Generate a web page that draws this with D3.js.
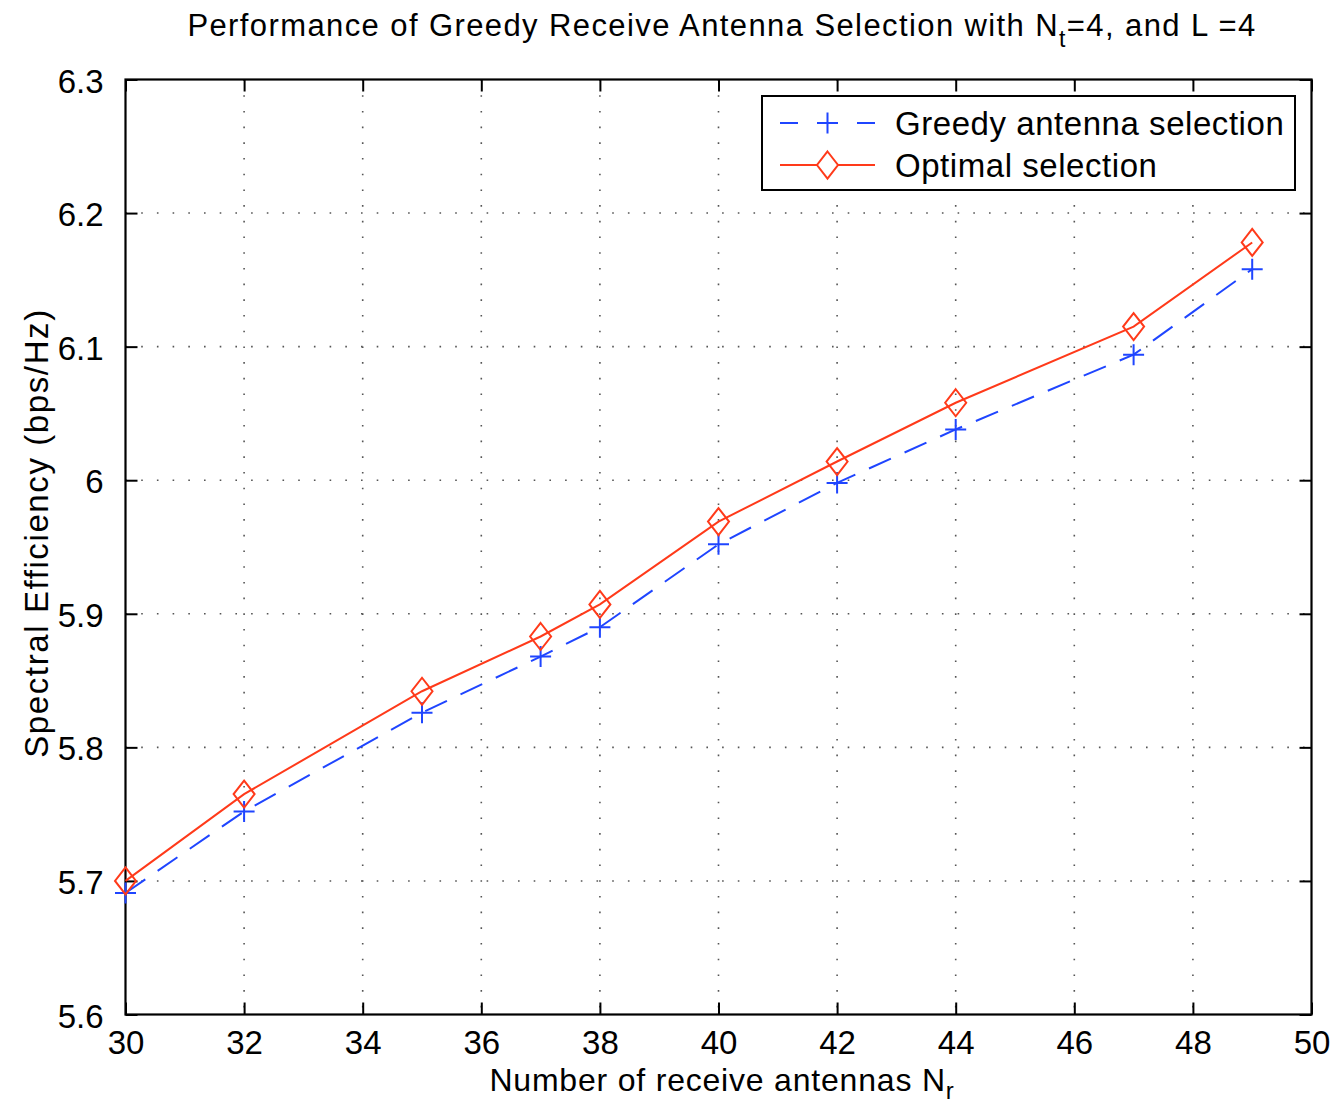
<!DOCTYPE html>
<html>
<head>
<meta charset="utf-8">
<script src="https://cdn.jsdelivr.net/npm/d3@7"></script>
<style>
  html, body { margin: 0; padding: 0; background: #fff; }
  svg { display: block; }
  text { font-family: "Liberation Sans", Arial, Helvetica, sans-serif; fill: #000; }
</style>
</head>
<body>
<svg id="chart" width="1336" height="1106"></svg>
<script>
// Number of receive antennas
const antennas = [30, 32, 35, 37, 38, 40, 42, 44, 47, 49];
// Spectral efficiency (bps/Hz)
const greedy  = [5.691, 5.752, 5.826, 5.868, 5.890, 5.952, 5.998, 6.038, 6.094, 6.158];
const optimal = [5.700, 5.765, 5.842, 5.883, 5.907, 5.969, 6.014, 6.058, 6.115, 6.178];

const xTicks = [30, 32, 34, 36, 38, 40, 42, 44, 46, 48, 50];
const yTicks = [5.6, 5.7, 5.8, 5.9, 6.0, 6.1, 6.2, 6.3];
const yTickLabels = ["5.6", "5.7", "5.8", "5.9", "6", "6.1", "6.2", "6.3"];

const seriesNames = ["Greedy antenna selection", "Optimal selection"];

const BLUE = "#1f45ff";
const RED = "#ff3a1a";

const svg = d3.select("#chart");
const plotL = 125.5, plotR = 1311.5, plotT = 79.5, plotB = 1014.5;

const x = d3.scaleLinear().domain([30, 50]).range([plotL, plotR]);
const y = d3.scaleLinear().domain([5.6, 6.3]).range([plotB, plotT]);

// dotted grid
const grid = svg.append("g");
grid.selectAll("line.gx").data(xTicks.slice(1, -1)).join("line")
  .attr("x1", d => x(d)).attr("x2", d => x(d))
  .attr("y1", plotT).attr("y2", plotB)
  .attr("stroke", "#555").attr("stroke-width", 1.6)
  .attr("stroke-dasharray", "1.6,14.1");
grid.selectAll("line.gy").data(yTicks.slice(1, -1)).join("line")
  .attr("y1", d => y(d)).attr("y2", d => y(d))
  .attr("x1", plotL).attr("x2", plotR)
  .attr("stroke", "#555").attr("stroke-width", 1.6)
  .attr("stroke-dasharray", "1.6,14.1");

// axes with inward ticks (bottom/left labelled, top/right mirrored)
const tickLen = 12;
const axB = d3.axisBottom(x).tickValues(xTicks).tickSize(-tickLen).tickPadding(tickLen + 4).tickFormat(d3.format("d"));
const axT = d3.axisTop(x).tickValues(xTicks).tickSize(-tickLen).tickFormat("");
const axL = d3.axisLeft(y).tickValues(yTicks).tickSize(-tickLen).tickPadding(tickLen + 10)
  .tickFormat((d, i) => yTickLabels[i]);
const axR = d3.axisRight(y).tickValues(yTicks).tickSize(-tickLen).tickFormat("");

function styleAxis(g) {
  g.select(".domain").remove();
  g.selectAll(".tick line").attr("stroke", "#000").attr("stroke-width", 2);
  g.selectAll(".tick text").style("font-size", "33px").attr("fill", "#000")
    .style("font-family", '"Liberation Sans", Arial, sans-serif');
}
svg.append("g").attr("transform", `translate(0,${plotB})`).call(axB).call(styleAxis)
  .selectAll(".tick text").attr("dy", "0.72em");
svg.append("g").attr("transform", `translate(0,${plotT})`).call(axT).call(styleAxis);
svg.append("g").attr("transform", `translate(${plotL},0)`).call(axL).call(styleAxis)
  .selectAll(".tick text").attr("dy", "0.38em");
svg.append("g").attr("transform", `translate(${plotR},0)`).call(axR).call(styleAxis);

// box
svg.append("rect").attr("x", plotL).attr("y", plotT)
  .attr("width", plotR - plotL).attr("height", plotB - plotT)
  .attr("fill", "none").attr("stroke", "#000").attr("stroke-width", 2.2);

// series lines
const line = (vals) => d3.line().x((d, i) => x(antennas[i])).y(d => y(d))(vals);

svg.append("path").attr("d", line(greedy))
  .attr("fill", "none").attr("stroke", BLUE).attr("stroke-width", 2)
  .attr("stroke-dasharray", "24,15");
svg.append("path").attr("d", line(optimal))
  .attr("fill", "none").attr("stroke", RED).attr("stroke-width", 2);

// markers
const plusPath = (cx, cy, r) => `M${cx - r},${cy}H${cx + r}M${cx},${cy - r}V${cy + r}`;
const diamondPath = (cx, cy, w, h) => `M${cx},${cy - h}L${cx + w},${cy}L${cx},${cy + h}L${cx - w},${cy}Z`;

svg.append("g").selectAll("path").data(greedy).join("path")
  .attr("d", (d, i) => plusPath(x(antennas[i]), y(d), 10.5))
  .attr("stroke", BLUE).attr("stroke-width", 2).attr("fill", "none");
svg.append("g").selectAll("path").data(optimal).join("path")
  .attr("d", (d, i) => diamondPath(x(antennas[i]), y(d), 10.5, 13.5))
  .attr("stroke", RED).attr("stroke-width", 2).attr("fill", "none");

// legend
const lg = svg.append("g");
lg.append("rect").attr("x", 762).attr("y", 96).attr("width", 533).attr("height", 94)
  .attr("fill", "#fff").attr("stroke", "#000").attr("stroke-width", 2);
const ly = [123, 165];
lg.append("line").attr("x1", 780).attr("x2", 875).attr("y1", ly[0]).attr("y2", ly[0])
  .attr("stroke", BLUE).attr("stroke-width", 2).attr("stroke-dasharray", "18,21");
lg.append("line").attr("x1", 857).attr("x2", 875).attr("y1", ly[0]).attr("y2", ly[0])
  .attr("stroke", BLUE).attr("stroke-width", 2);
lg.append("path").attr("d", plusPath(827.5, ly[0], 10.5)).attr("stroke", BLUE).attr("stroke-width", 2);
lg.append("line").attr("x1", 780).attr("x2", 875).attr("y1", ly[1]).attr("y2", ly[1])
  .attr("stroke", RED).attr("stroke-width", 2);
lg.append("path").attr("d", diamondPath(827.5, ly[1], 10.5, 13.5))
  .attr("stroke", RED).attr("stroke-width", 2).attr("fill", "#fff");
lg.selectAll("text").data(seriesNames).join("text")
  .attr("x", 895).attr("y", (d, i) => ly[i]).attr("dy", "0.36em")
  .style("font-size", "33px").style("letter-spacing", "0.55px").text(d => d);

// title with subscript
const title = svg.append("text").attr("x", 722).attr("y", 36)
  .attr("text-anchor", "middle").style("font-size", "31px").style("letter-spacing", "1.4px");
title.append("tspan").text("Performance of Greedy Receive Antenna Selection with N");
title.append("tspan").attr("dy", 11).style("font-size", "23px").text("t");
title.append("tspan").attr("dy", -11).text("=4, and L =4");

// x label
const xl = svg.append("text").attr("x", 722).attr("y", 1091)
  .attr("text-anchor", "middle").style("font-size", "32px").style("letter-spacing", "0.8px");
xl.append("tspan").text("Number of receive antennas N");
xl.append("tspan").attr("dy", 8).style("font-size", "24px").text("r");

// y label
svg.append("text").attr("transform", `translate(48,533) rotate(-90)`)
  .attr("text-anchor", "middle").style("font-size", "33px").style("letter-spacing", "1.6px")
  .text("Spectral Efficiency (bps/Hz)");
</script>
</body>
</html>
